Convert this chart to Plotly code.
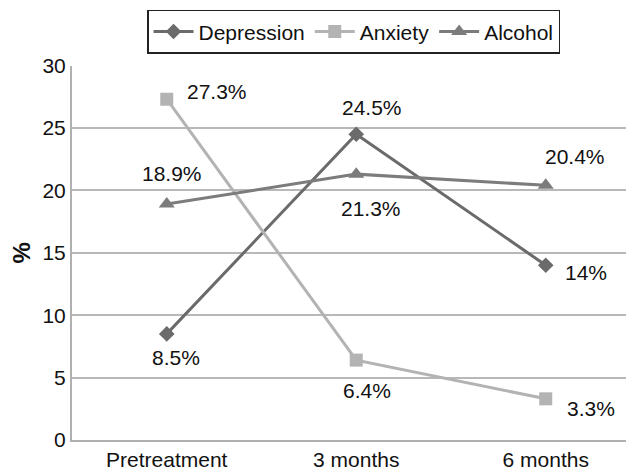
import plotly.graph_objects as go

categories = ["Pretreatment", "3 months", "6 months"]
depression = [8.5, 24.5, 14]
anxiety = [27.3, 6.4, 3.3]
alcohol = [18.9, 21.3, 20.4]
depression_labels = ["8.5%", "24.5%", "14%"]
anxiety_labels = ["27.3%", "6.4%", "3.3%"]
alcohol_labels = ["18.9%", "21.3%", "20.4%"]
y_ticks = [0, 5, 10, 15, 20, 25, 30]

FONT = "Liberation Sans, Arial, sans-serif"
FS = 21

series = [
    ("Depression", depression, depression_labels, "#6b6b6b", "diamond", 12,
     [(9, 24), (16, -27), (40, 7)]),
    ("Anxiety", anxiety, anxiety_labels, "#b3b3b3", "square", 13,
     [(50, -8), (11, 30), (45, 10)]),
    ("Alcohol", alcohol, alcohol_labels, "#7c7c7c", "triangle-up", 14,
     [(5, -31), (15, 34), (29, -29)]),
]

fig = go.Figure()
annotations = []
for name, vals, labels, color, symbol, msize, shifts in series:
    fig.add_trace(go.Scatter(
        x=categories, y=vals, name=name, mode="lines+markers",
        line=dict(color=color, width=3),
        marker=dict(symbol=symbol, size=msize, color=color),
    ))
    for c, v, lab, (dx, dy) in zip(categories, vals, labels, shifts):
        annotations.append(dict(
            x=c, y=v, text=lab, showarrow=False, xshift=dx, yshift=-dy,
            font=dict(family=FONT, size=FS, color="#111111"),
        ))

# page body has an 8px margin, so the figure is laid out 8px left/up of the target
fig.update_layout(
    width=634, height=470,
    margin=dict(l=64, r=0, t=52, b=38),
    paper_bgcolor="white", plot_bgcolor="white",
    font=dict(family=FONT, size=FS, color="#111111"),
    annotations=annotations,
    showlegend=True,
    legend=dict(
        orientation="h", xref="container", yref="container",
        x=0.545, xanchor="center", y=0.996, yanchor="top",
        bordercolor="#222222", borderwidth=1.5,
        font=dict(family=FONT, size=FS, color="#111111"),
        itemwidth=40, tracegroupgap=0,
    ),
    xaxis=dict(
        type="category", range=[-0.5, 2.508],
        showgrid=False, showline=True, linecolor="#b0b0b0", linewidth=2,
        ticks="", tickfont=dict(size=FS),
    ),
    yaxis=dict(
        range=[0, 30], tickvals=y_ticks,
        showgrid=True, gridcolor="#b8b8b8", gridwidth=1.5,
        showline=True, linecolor="#b0b0b0", linewidth=2,
        zeroline=False, ticks="", tickfont=dict(size=FS),
        title=dict(text="<b>%</b>", font=dict(size=24), standoff=12),
    ),
)

fig.write_html("out.html")
